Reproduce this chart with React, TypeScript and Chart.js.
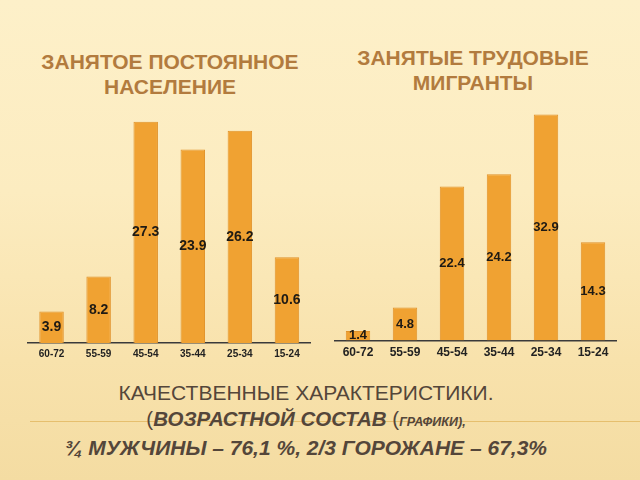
import React, { useEffect, useRef } from "react";
import { Chart, registerables } from "chart.js";

Chart.register(...registerables);

const ageGroups = ["60-72", "55-59", "45-54", "35-44", "25-34", "15-24"];
const residentsValues = [3.9, 8.2, 27.3, 23.9, 26.2, 10.6];
const migrantsValues = [1.4, 4.8, 22.4, 24.2, 32.9, 14.3];

const leftTitle = ["ЗАНЯТОЕ ПОСТОЯННОЕ", "НАСЕЛЕНИЕ"];
const rightTitle = ["ЗАНЯТЫЕ ТРУДОВЫЕ", "МИГРАНТЫ"];

const BAR_COLOR = "#f0a232";
const BAR_BORDER = "#e0922a";
const TITLE_COLOR = "#b27b3e";
const FONT = "'Liberation Sans', Arial, sans-serif";

const valueLabelPlugin = {
  id: "valueLabels",
  afterDatasetsDraw(chart: any, _args: any, opts: any) {
    const ctx = chart.ctx;
    const meta = chart.getDatasetMeta(0);
    const data = chart.data.datasets[0].data as number[];
    ctx.save();
    ctx.font = `bold ${opts.size || 13}px ${FONT}`;
    ctx.fillStyle = "#1e1a14";
    ctx.textAlign = "center";
    ctx.textBaseline = "middle";
    meta.data.forEach((bar: any, i: number) => {
      const cy = (bar.y + bar.base) / 2;
      ctx.fillText(String(data[i].toFixed(1)), bar.x, cy);
    });
    ctx.restore();
  },
};

function BarChart(props: {
  values: number[];
  max: number;
  tickSize: number;
  labelSize: number;
  padding: { left: number; right: number; top: number; bottom: number };
}) {
  const ref = useRef<HTMLCanvasElement | null>(null);
  useEffect(() => {
    if (!ref.current) return;
    const chart = new Chart(ref.current, {
      type: "bar",
      data: {
        labels: ageGroups,
        datasets: [
          {
            data: props.values,
            backgroundColor: BAR_COLOR,
            borderColor: BAR_BORDER,
            borderWidth: 1,
            barPercentage: 0.52,
            categoryPercentage: 1,
          },
        ],
      },
      options: {
        animation: false,
        responsive: false,
        maintainAspectRatio: false,
        layout: { padding: props.padding },
        plugins: {
          legend: { display: false },
          tooltip: { enabled: false },
          valueLabels: { size: props.labelSize },
        } as any,
        scales: {
          x: {
            grid: { display: false, drawTicks: false },
            border: { display: true, color: "#3a3a3a", width: 1.5 },
            ticks: {
              color: "#222",
              padding: 5,
              font: { family: FONT, size: props.tickSize, weight: "bold" },
            },
          },
          y: {
            display: false,
            min: 0,
            max: props.max,
          },
        },
      },
      plugins: [valueLabelPlugin],
    });
    return () => chart.destroy();
  }, []);
  return <canvas ref={ref} width={300} height={280} style={{ display: "block" }} />;
}

export default function App() {
  const titleStyle: React.CSSProperties = {
    position: "absolute",
    textAlign: "center",
    color: TITLE_COLOR,
    fontFamily: FONT,
    fontWeight: "bold",
    fontSize: 21,
    lineHeight: "25px",
  };
  return (
    <div
      style={{
        position: "fixed",
        left: 0,
        top: 0,
        width: 640,
        height: 480,
        overflow: "hidden",
        background:
          "linear-gradient(180deg, #fdf0c9 0%, #fcecc0 40%, #f8e2ac 75%, #f4dca2 100%)",
      }}
    >
      <div
        style={{
          position: "absolute",
          left: 30,
          top: 421,
          width: 610,
          height: 1,
          background: "#e6bf6e",
        }}
      />
      <div style={{ ...titleStyle, left: 20, top: 49, width: 300 }}>
        {leftTitle[0]}
        <br />
        {leftTitle[1]}
      </div>
      <div style={{ ...titleStyle, left: 323, top: 45, width: 300 }}>
        {rightTitle[0]}
        <br />
        {rightTitle[1]}
      </div>
      <div style={{ position: "absolute", left: 20, top: 90 }}>
        <BarChart
          values={residentsValues}
          max={30}
          tickSize={10}
          labelSize={14}
          padding={{ left: 8, right: 9.5, top: 10, bottom: 5 }}
        />
      </div>
      <div style={{ position: "absolute", left: 330, top: 90 }}>
        <BarChart
          values={migrantsValues}
          max={35}
          tickSize={12}
          labelSize={13}
          padding={{ left: 4.5, right: 13.5, top: 10, bottom: 5 }}
        />
      </div>
      <div
        style={{
          position: "absolute",
          left: 0,
          top: 379,
          width: 612,
          textAlign: "center",
          color: "#54463a",
          fontFamily: FONT,
          lineHeight: "26px",
        }}
      >
        <div style={{ fontSize: 21, lineHeight: "27px" }}>КАЧЕСТВЕННЫЕ ХАРАКТЕРИСТИКИ.</div>
        <div style={{ fontSize: 20.5, fontStyle: "italic", fontWeight: "bold" }}>
          <span style={{ fontStyle: "normal", fontWeight: "normal" }}>(</span>
          ВОЗРАСТНОЙ СОСТАВ{" "}
          <span style={{ fontStyle: "normal", fontWeight: "normal" }}>(</span>
          <span style={{ fontSize: 12.5 }}>ГРАФИКИ),</span>
        </div>
        <div style={{ fontSize: 21, fontStyle: "italic", fontWeight: "bold" }}>
          ¾ МУЖЧИНЫ – 76,1 %, 2/3 ГОРОЖАНЕ – 67,3%
        </div>
      </div>
    </div>
  );
}
